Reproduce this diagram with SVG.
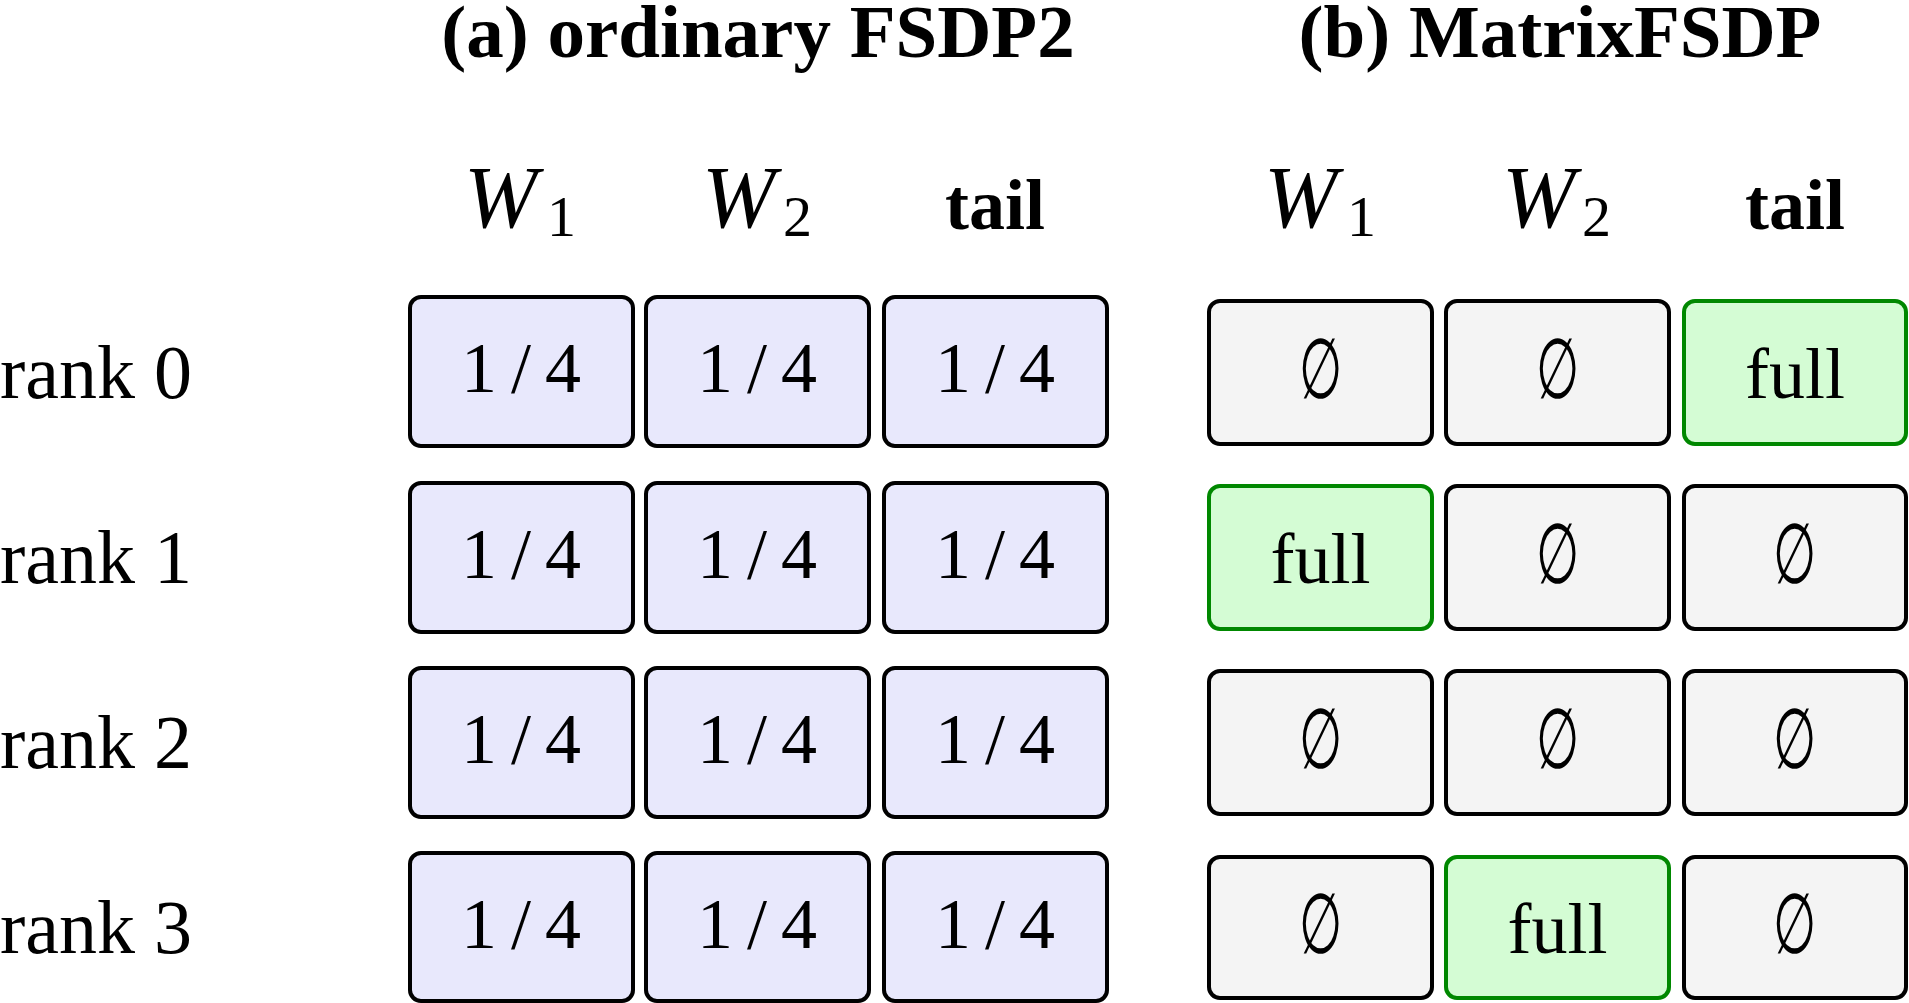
<svg xmlns="http://www.w3.org/2000/svg" width="1909" height="1003" viewBox="0 0 1909 1003">
<style>
text{font-family:"Liberation Serif","Times New Roman",serif;fill:#000}
.title{font-size:75px;font-weight:bold;text-anchor:middle}
.hdr{font-size:72px;font-weight:bold;text-anchor:middle}
.w{font-size:88px;font-style:italic}
.sub{font-size:58px;font-style:normal}
.rank{font-size:76px}
.cell{font-size:72px;text-anchor:middle}
.frac{letter-spacing:14px}
.es{font-family:"DejaVu Serif","Liberation Serif",serif;font-size:64px;text-anchor:middle}
.q{fill:#e8e8fc;stroke:#000;stroke-width:4}
.e{fill:#f4f4f4;stroke:#000;stroke-width:4}
.f{fill:#d4fcd4;stroke:#008800;stroke-width:4}
</style>
<defs>
<text id="es" class="es" x="0" y="0" transform="scale(0.78,1.32)">∅</text>
</defs>
<rect width="1909" height="1003" fill="#fff"/>
<g id="titles">
<text class="title" x="758" y="57">(a) ordinary FSDP2</text>
<text class="title" x="1560" y="57">(b) MatrixFSDP</text>
</g>
<g id="headers">
<text class="w" x="464" y="227">W<tspan class="sub" x="547" y="236">1</tspan></text>
<text class="w" x="702" y="227">W<tspan class="sub" x="783" y="236">2</tspan></text>
<text class="hdr" x="995" y="229">tail</text>
<text class="w" x="1264" y="227">W<tspan class="sub" x="1347" y="236">1</tspan></text>
<text class="w" x="1502" y="227">W<tspan class="sub" x="1582" y="236">2</tspan></text>
<text class="hdr" x="1795" y="229">tail</text>
</g>
<g id="ranks">
<text class="rank" x="0" y="398">rank 0</text>
<text class="rank" x="0" y="583">rank 1</text>
<text class="rank" x="0" y="768">rank 2</text>
<text class="rank" x="0" y="953">rank 3</text>
</g>
<g id="left-grid">
<g id="a-r0-w1"><rect class="q" x="410" y="297" width="223" height="149" rx="11"/><text class="cell frac" x="528" y="392">1/4</text></g>
<g id="a-r0-w2"><rect class="q" x="646" y="297" width="223" height="149" rx="11"/><text class="cell frac" x="764" y="392">1/4</text></g>
<g id="a-r0-tail"><rect class="q" x="884" y="297" width="223" height="149" rx="11"/><text class="cell frac" x="1002" y="392">1/4</text></g>
<g id="a-r1-w1"><rect class="q" x="410" y="483" width="223" height="149" rx="11"/><text class="cell frac" x="528" y="578">1/4</text></g>
<g id="a-r1-w2"><rect class="q" x="646" y="483" width="223" height="149" rx="11"/><text class="cell frac" x="764" y="578">1/4</text></g>
<g id="a-r1-tail"><rect class="q" x="884" y="483" width="223" height="149" rx="11"/><text class="cell frac" x="1002" y="578">1/4</text></g>
<g id="a-r2-w1"><rect class="q" x="410" y="668" width="223" height="149" rx="11"/><text class="cell frac" x="528" y="763">1/4</text></g>
<g id="a-r2-w2"><rect class="q" x="646" y="668" width="223" height="149" rx="11"/><text class="cell frac" x="764" y="763">1/4</text></g>
<g id="a-r2-tail"><rect class="q" x="884" y="668" width="223" height="149" rx="11"/><text class="cell frac" x="1002" y="763">1/4</text></g>
<g id="a-r3-w1"><rect class="q" x="410" y="853" width="223" height="148" rx="11"/><text class="cell frac" x="528" y="948">1/4</text></g>
<g id="a-r3-w2"><rect class="q" x="646" y="853" width="223" height="148" rx="11"/><text class="cell frac" x="764" y="948">1/4</text></g>
<g id="a-r3-tail"><rect class="q" x="884" y="853" width="223" height="148" rx="11"/><text class="cell frac" x="1002" y="948">1/4</text></g>
</g>
<g id="right-grid">
<g id="b-r0-w1"><rect class="e" x="1209" y="301" width="223" height="143" rx="11"/><use href="#es" transform="translate(1320.5,398)"/></g>
<g id="b-r0-w2"><rect class="e" x="1446" y="301" width="223" height="143" rx="11"/><use href="#es" transform="translate(1557.5,398)"/></g>
<g id="b-r0-tail"><rect class="f" x="1684" y="301" width="222" height="143" rx="11"/><text class="cell" x="1795" y="398">full</text></g>
<g id="b-r1-w1"><rect class="f" x="1209" y="486" width="223" height="143" rx="11"/><text class="cell" x="1320.5" y="583">full</text></g>
<g id="b-r1-w2"><rect class="e" x="1446" y="486" width="223" height="143" rx="11"/><use href="#es" transform="translate(1557.5,583)"/></g>
<g id="b-r1-tail"><rect class="e" x="1684" y="486" width="222" height="143" rx="11"/><use href="#es" transform="translate(1795,583)"/></g>
<g id="b-r2-w1"><rect class="e" x="1209" y="671" width="223" height="143" rx="11"/><use href="#es" transform="translate(1320.5,768)"/></g>
<g id="b-r2-w2"><rect class="e" x="1446" y="671" width="223" height="143" rx="11"/><use href="#es" transform="translate(1557.5,768)"/></g>
<g id="b-r2-tail"><rect class="e" x="1684" y="671" width="222" height="143" rx="11"/><use href="#es" transform="translate(1795,768)"/></g>
<g id="b-r3-w1"><rect class="e" x="1209" y="857" width="223" height="141" rx="11"/><use href="#es" transform="translate(1320.5,953)"/></g>
<g id="b-r3-w2"><rect class="f" x="1446" y="857" width="223" height="141" rx="11"/><text class="cell" x="1557.5" y="953">full</text></g>
<g id="b-r3-tail"><rect class="e" x="1684" y="857" width="222" height="141" rx="11"/><use href="#es" transform="translate(1795,953)"/></g>
</g>
<g id="connectors"/>
</svg>
